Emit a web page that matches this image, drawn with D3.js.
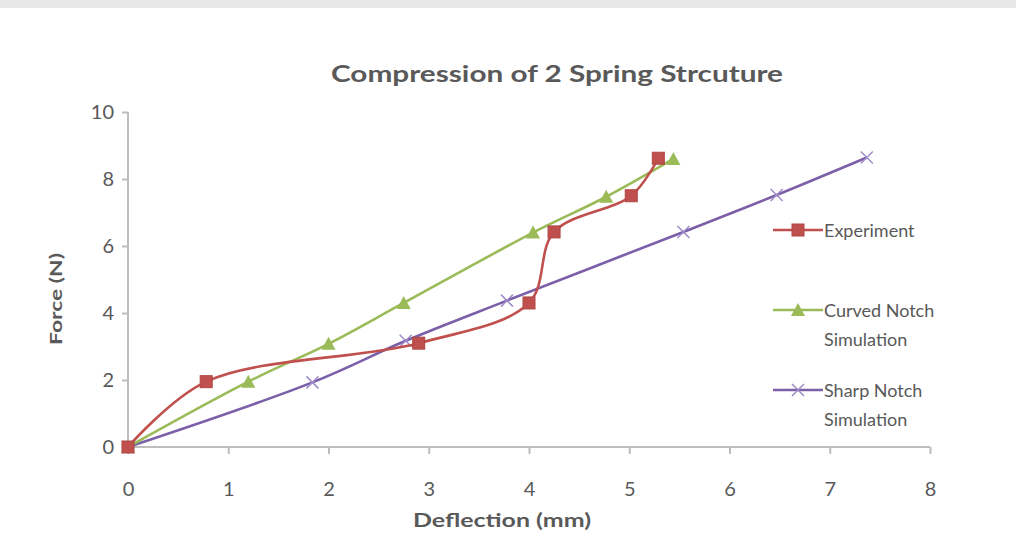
<!DOCTYPE html>
<html>
<head>
<meta charset="utf-8">
<script src="https://cdn.jsdelivr.net/npm/d3@7"></script>
<style>
  body { margin: 0; background: #fff; }
  text { font-family: Lato, "Open Sans", sans-serif; fill: #595959; }
</style>
</head>
<body>
<div id="chart"></div>
<script>
// values
var expX = [0, 0.78, 2.9, 4.0, 4.25, 5.02, 5.29];
var expY = [0, 1.95, 3.1, 4.3, 6.42, 7.5, 8.62];
var curvedX = [0, 1.2, 2.0, 2.75, 4.04, 4.77, 5.44];
var curvedY = [0, 1.95, 3.08, 4.3, 6.4, 7.47, 8.6];
var sharpX = [0, 1.84, 2.77, 3.78, 5.54, 6.47, 7.37];
var sharpY = [0, 1.93, 3.17, 4.37, 6.42, 7.52, 8.64];
var xTicks = [0, 1, 2, 3, 4, 5, 6, 7, 8];
var yTicks = [0, 2, 4, 6, 8, 10];
var seriesNames = ["Experiment", "Curved Notch Simulation", "Sharp Notch Simulation"];

var W = 1016, H = 547;
var svg = d3.select("#chart").append("svg")
  .attr("width", W).attr("height", H);

svg.append("rect").attr("x", 0).attr("y", 0).attr("width", W).attr("height", 8)
  .attr("fill", "#e8e8e8");

var x = d3.scaleLinear().domain([0, 8]).range([128, 930]);
var y = d3.scaleLinear().domain([0, 10]).range([447, 112]);

// axes
var xAxis = svg.append("g").attr("transform", "translate(0,447)")
  .call(d3.axisBottom(x).tickValues(xTicks).tickSize(7).tickPadding(28));
var yAxis = svg.append("g").attr("transform", "translate(128,0)")
  .call(d3.axisLeft(y).tickValues(yTicks).tickSize(6).tickPadding(8));
[xAxis, yAxis].forEach(function(a) {
  a.select(".domain").attr("stroke", "#bdbdbd").attr("stroke-width", 2);
  a.selectAll(".tick line").attr("stroke", "#bdbdbd").attr("stroke-width", 2);
  a.selectAll("text").style("font-size", "20px").attr("fill", "#555");
});
yAxis.select(".domain").attr("d", "M0," + y(10) + "V" + y(0));
xAxis.select(".domain").attr("d", "M" + x(0) + ",0H" + x(8));

// titles
svg.append("text").attr("x", 557).attr("y", 82).attr("text-anchor", "middle")
  .attr("textLength", 452).attr("lengthAdjust", "spacingAndGlyphs")
  .style("font-size", "22px").style("font-weight", "bold")
  .text("Compression of 2 Spring Strcuture");
svg.append("text").attr("x", 502).attr("y", 527).attr("text-anchor", "middle")
  .attr("textLength", 178).attr("lengthAdjust", "spacingAndGlyphs")
  .style("font-size", "19px").style("font-weight", "bold")
  .text("Deflection (mm)");
svg.append("text").attr("transform", "translate(62,299) rotate(-90)")
  .attr("text-anchor", "middle")
  .attr("textLength", 92).attr("lengthAdjust", "spacingAndGlyphs")
  .style("font-size", "17px").style("font-weight", "bold")
  .text("Force (N)");

function pts(xs, ys) { return xs.map(function(v, i) { return [v, ys[i]]; }); }
var series = [
  { data: pts(expX, expY), color: "#c0504d", mark: "square" },
  { data: pts(curvedX, curvedY), color: "#9bbb59", mark: "triangle" },
  { data: pts(sharpX, sharpY), color: "#7b5fa8", mark: "x" }
];

var line = d3.line()
  .x(function(d) { return x(d[0]); })
  .y(function(d) { return y(d[1]); })
  .curve(d3.curveCatmullRom.alpha(0.5));

function drawMark(g, kind, color, cx, cy) {
  if (kind === "square") {
    g.append("rect").attr("x", cx - 6).attr("y", cy - 6).attr("width", 12).attr("height", 12)
      .attr("fill", color).attr("stroke", "#b04542").attr("stroke-width", 1);
  } else if (kind === "triangle") {
    g.append("path").attr("d", "M" + cx + "," + (cy - 7) + "L" + (cx + 7) + "," + (cy + 6) + "L" + (cx - 7) + "," + (cy + 6) + "Z")
      .attr("fill", color);
  } else {
    g.append("path").attr("d", "M" + (cx - 6) + "," + (cy - 6) + "L" + (cx + 6) + "," + (cy + 6) + "M" + (cx - 6) + "," + (cy + 6) + "L" + (cx + 6) + "," + (cy - 6))
      .attr("stroke", "#a08cc8").attr("stroke-width", 1.5).attr("fill", "none");
  }
}

// draw in reverse so experiment sits on top
series.slice().reverse().forEach(function(s) {
  var g = svg.append("g");
  g.append("path").datum(s.data).attr("d", line)
    .attr("fill", "none").attr("stroke", s.color).attr("stroke-width", 2.6);
  s.data.forEach(function(d) { drawMark(g, s.mark, s.color, x(d[0]), y(d[1])); });
});

// legend
var legendRows = [
  { lines: ["Experiment"], y: 230 },
  { lines: ["Curved Notch", "Simulation"], y: 310 },
  { lines: ["Sharp Notch", "Simulation"], y: 390 }
];
legendRows.forEach(function(r, i) {
  var s = series[i];
  var g = svg.append("g");
  g.append("line").attr("x1", 773).attr("x2", 823).attr("y1", r.y).attr("y2", r.y)
    .attr("stroke", s.color).attr("stroke-width", 2.6);
  drawMark(g, s.mark, s.color, 798, r.y);
  r.lines.forEach(function(t, j) {
    g.append("text").attr("x", 824).attr("y", r.y + 7 + j * 29)
      .style("font-size", "18px").attr("fill", "#555").text(t);
  });
});
</script>
</body>
</html>
